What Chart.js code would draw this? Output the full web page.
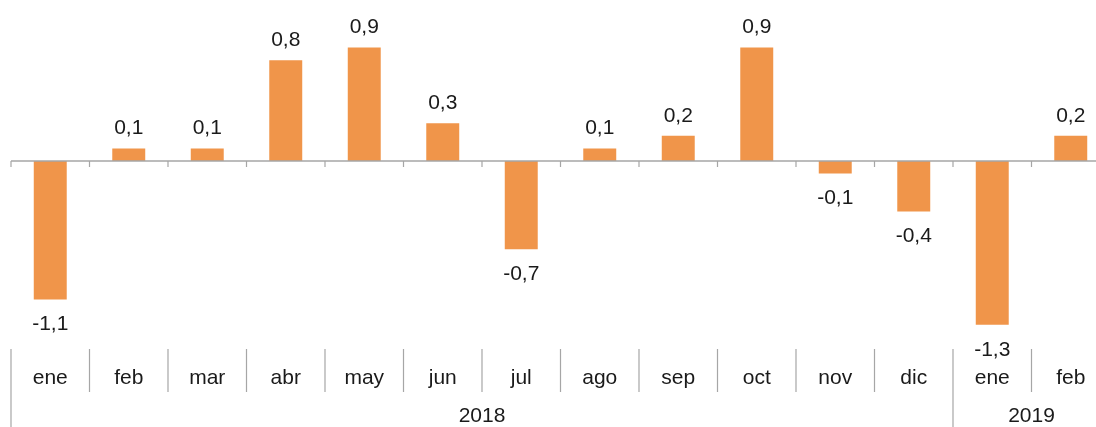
<!DOCTYPE html>
<html>
<head>
<meta charset="utf-8">
<script src="https://cdn.jsdelivr.net/npm/chart.js@4"></script>
<style>
  html, body { margin: 0; padding: 0; background: #fff; overflow: hidden; }
</style>
</head>
<body>
<canvas id="myMonthlyChart" width="1110" height="427"></canvas>
<script>
// monthly values (%)
var months = ['ene', 'feb', 'mar', 'abr', 'may', 'jun', 'jul', 'ago', 'sep', 'oct', 'nov', 'dic', 'ene', 'feb'];
var values = [-1.1, 0.1, 0.1, 0.8, 0.9, 0.3, -0.7, 0.1, 0.2, 0.9, -0.1, -0.4, -1.3, 0.2];
var years = ['2018', '2019'];
var yearStart = [0, 12]; // index of first month of each year

var labelFont = '21px "Liberation Sans", Arial, sans-serif';

// zero line, value labels and the two-level month/year axis
var axisPlugin = {
    id: 'axisPlugin',
    afterDatasetsDraw: function(chart) {
        var ctx = chart.ctx;
        var x = chart.scales.x;
        var y = chart.scales.y;
        var area = chart.chartArea;
        var step = x.getPixelForValue(1) - x.getPixelForValue(0);
        var zero = y.getPixelForValue(0);

        ctx.save();
        ctx.strokeStyle = '#a6a6a6';
        ctx.lineWidth = 1.5;
        ctx.beginPath();
        ctx.moveTo(area.left, zero);
        ctx.lineTo(area.right, zero);
        ctx.stroke();

        ctx.lineWidth = 1.2;
        for (var i = 0; i <= months.length; i++) {
            var sx = x.getPixelForValue(i) - step / 2;
            // small tick below zero line
            ctx.beginPath();
            ctx.moveTo(sx, zero);
            ctx.lineTo(sx, zero + 6);
            ctx.stroke();
            // separators in the category axis
            var isYear = yearStart.indexOf(i) >= 0;
            ctx.beginPath();
            ctx.moveTo(sx, area.bottom - 1);
            ctx.lineTo(sx, isYear ? chart.height : area.bottom + 42);
            ctx.stroke();
        }

        ctx.fillStyle = '#1a1a1a';
        ctx.font = labelFont;
        ctx.textAlign = 'center';
        ctx.textBaseline = 'middle';

        // value labels
        var meta = chart.getDatasetMeta(0);
        meta.data.forEach(function(bar, i) {
            var v = values[i];
            var txt = v.toFixed(1).replace('.', ',');
            var ly = v >= 0 ? bar.y - 20 : bar.y + 25;
            ctx.fillText(txt, bar.x, ly);
        });

        // month labels
        months.forEach(function(m, i) {
            ctx.fillText(m, x.getPixelForValue(i), area.bottom + 28);
        });

        // year labels
        years.forEach(function(yr, j) {
            var first = yearStart[j];
            var last = j + 1 < yearStart.length ? yearStart[j + 1] - 1 : months.length - 1;
            var cx = (x.getPixelForValue(first) + x.getPixelForValue(last)) / 2;
            ctx.fillText(yr, cx, area.bottom + 66);
        });
        ctx.restore();
    }
};

var ctx_monthly = document.getElementById('myMonthlyChart').getContext('2d');
var chart_monthly = new Chart(ctx_monthly, {
    type: 'bar',
    data: {
        labels: months,
        datasets: [{
            data: values,
            backgroundColor: '#f0954a',
            borderWidth: 0,
            barPercentage: 0.42,
            categoryPercentage: 1.0
        }]
    },
    options: {
        responsive: false,
        animation: false,
        layout: {
            padding: { left: 11, right: 0, top: 35, bottom: 77 }
        },
        plugins: {
            legend: { display: false },
            tooltip: { enabled: false }
        },
        scales: {
            x: { display: false, offset: true },
            y: { display: false, min: -1.5, max: 1.0 }
        }
    },
    plugins: [axisPlugin]
});
</script>
</body>
</html>
